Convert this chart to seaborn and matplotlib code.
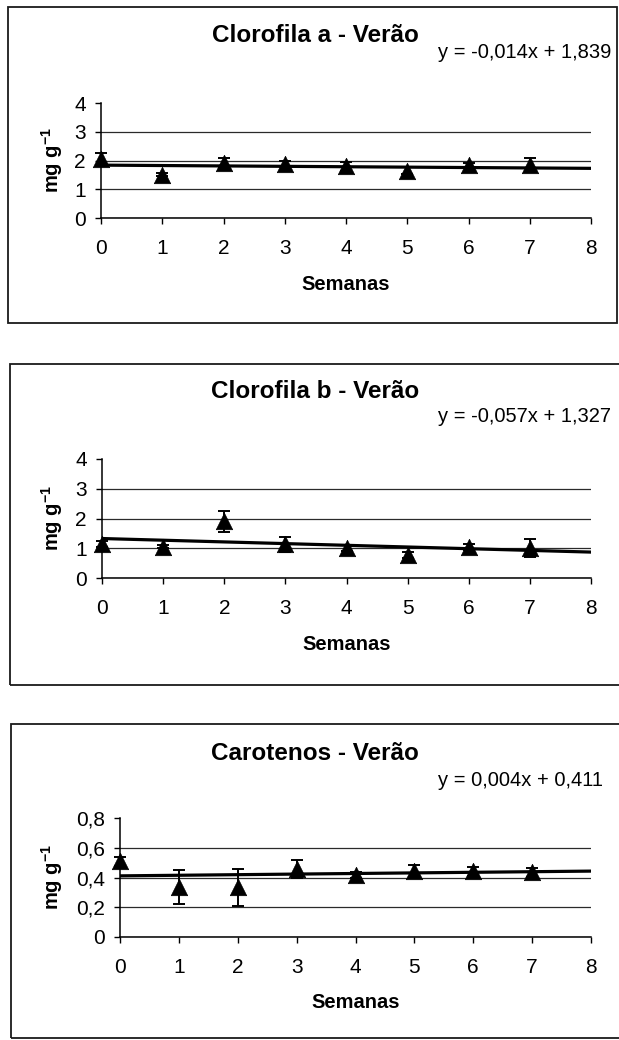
import numpy as np
import matplotlib
matplotlib.use("Agg")
import matplotlib.pyplot as plt
from matplotlib.patches import Rectangle
import seaborn as sns

# Weekly measurements (mean and standard error), summer
semanas = [0, 1, 2, 3, 4, 5, 6, 7]

clor_a_media = [2.05, 1.50, 1.93, 1.88, 1.80, 1.65, 1.83, 1.85]
clor_a_erro = [0.20, 0.05, 0.17, 0.12, 0.15, 0.12, 0.10, 0.25]
clor_a_reta = (-0.014, 1.839)

clor_b_media = [1.15, 1.05, 1.90, 1.13, 1.00, 0.77, 1.05, 1.00]
clor_b_erro = [0.10, 0.05, 0.35, 0.25, 0.10, 0.10, 0.10, 0.30]
clor_b_reta = (-0.057, 1.327)

carot_media = [0.51, 0.335, 0.335, 0.46, 0.42, 0.445, 0.443, 0.436]
carot_erro = [0.03, 0.115, 0.125, 0.06, 0.02, 0.04, 0.03, 0.03]
carot_reta = (0.004, 0.411)

titulos = ["Clorofila a - Verão", "Clorofila b - Verão", "Carotenos - Verão"]
equacoes = ["y = -0,014x + 1,839", "y = -0,057x + 1,327", "y = 0,004x + 0,411"]

ticks_x = [0, 1, 2, 3, 4, 5, 6, 7, 8]
ticks_y_clor = [0, 1, 2, 3, 4]
rotulos_y_clor = ["0", "1", "2", "3", "4"]
ticks_y_carot = [0, 0.2, 0.4, 0.6, 0.8]
rotulos_y_carot = ["0", "0,2", "0,4", "0,6", "0,8"]

sns.set_theme(style="white")
plt.rcParams["font.family"] = ["Liberation Sans", "DejaVu Sans"]
plt.rcParams["mathtext.fontset"] = "custom"
plt.rcParams["mathtext.rm"] = "Liberation Sans:bold"
plt.rcParams["mathtext.bf"] = "Liberation Sans:bold"
plt.rcParams["mathtext.default"] = "bf"

W, H = 619, 1040
fig = plt.figure(figsize=(W / 100, H / 100), dpi=100)
fig.patch.set_facecolor("white")

# pixel layout: frame box, plot area, title/equation rows
paineis = [
    dict(box=(8, 7, 617, 323), area=(101, 103, 591, 218), titulo_y=35, eq_y=53,
         media=clor_a_media, erro=clor_a_erro, reta=clor_a_reta,
         ticks=ticks_y_clor, rotulos=rotulos_y_clor),
    dict(box=(10, 364, 625, 685), area=(102, 459, 591, 578), titulo_y=392, eq_y=416,
         media=clor_b_media, erro=clor_b_erro, reta=clor_b_reta,
         ticks=ticks_y_clor, rotulos=rotulos_y_clor),
    dict(box=(11, 724, 625, 1038), area=(120, 818, 591, 937), titulo_y=753, eq_y=780,
         media=carot_media, erro=carot_erro, reta=carot_reta,
         ticks=ticks_y_carot, rotulos=rotulos_y_carot),
]

for i, p in enumerate(paineis):
    bx0, by0, bx1, by1 = p["box"]
    fig.patches.append(Rectangle((bx0 / W, 1 - by1 / H), (bx1 - bx0) / W, (by1 - by0) / H,
                                 transform=fig.transFigure, fill=False,
                                 edgecolor="#1a1a1a", linewidth=1.3))

    l, t, r, b = p["area"]
    ax = fig.add_axes([l / W, 1 - b / H, (r - l) / W, (b - t) / H])
    ax.set_facecolor("none")

    # linear trend from the fitted equation
    a, c = p["reta"]
    xs = np.array([ticks_x[0], ticks_x[-1]], dtype=float)
    sns.lineplot(x=xs, y=a * xs + c, color="black", linewidth=2.3, ax=ax, zorder=2)

    ax.errorbar(semanas, p["media"], yerr=p["erro"], fmt="none", ecolor="black",
                elinewidth=1.4, capsize=4.5, capthick=1.4, zorder=3, clip_on=False)
    sns.scatterplot(x=semanas, y=p["media"], marker="^", s=140, color="black",
                    edgecolor="black", linewidth=0.5, ax=ax, zorder=4, clip_on=False)

    ax.set_xlim(ticks_x[0], ticks_x[-1])
    ax.set_ylim(p["ticks"][0], p["ticks"][-1])
    ax.set_xticks(ticks_x)
    ax.set_xticklabels([str(v) for v in ticks_x])
    ax.set_yticks(p["ticks"])
    ax.set_yticklabels(p["rotulos"])

    ax.grid(axis="y", color="#2a2a2a", linewidth=0.9)
    ax.grid(axis="x", visible=False)
    ax.get_ygridlines()[-1].set_visible(False)
    ax.set_axisbelow(True)

    for s in ["top", "right"]:
        ax.spines[s].set_visible(False)
    for s in ["left", "bottom"]:
        ax.spines[s].set_color("black")
        ax.spines[s].set_linewidth(1.1)

    ax.tick_params(axis="both", which="major", direction="out", length=4, width=1,
                   color="black", labelcolor="black", labelsize=15,
                   bottom=True, left=True)
    ax.tick_params(axis="x", pad=11)
    ax.tick_params(axis="y", pad=7)

    ax.set_xlabel("Semanas", fontsize=14.5, fontweight="bold", color="black")
    ax.xaxis.label.set_va("center")
    ax.xaxis.set_label_coords(0.5, -66 / (b - t))

    ax.set_ylabel("mg g$^{-1}$", fontsize=14.5, fontweight="bold", color="black")
    ax.yaxis.label.set_va("center")
    ax.yaxis.set_label_coords((52 - l) / (r - l), 0.5)

    fig.text(315 / W, 1 - p["titulo_y"] / H, titulos[i], ha="center", va="center",
             fontsize=17.5, fontweight="bold", color="black")
    fig.text(438 / W, 1 - p["eq_y"] / H, equacoes[i], ha="left", va="center",
             fontsize=14.5, color="black")

fig.savefig("out.png", dpi=100, facecolor="white")
